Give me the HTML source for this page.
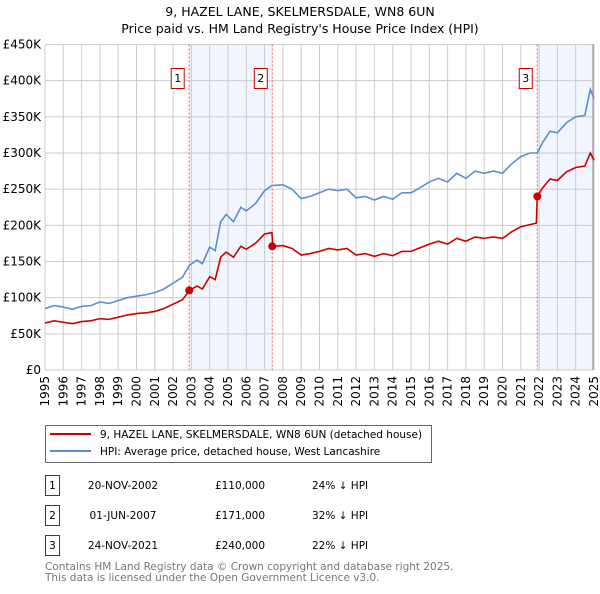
<!DOCTYPE html>
<html><head><meta charset="utf-8"><style>
body{margin:0;background:#fff;width:600px;height:590px;overflow:hidden;font-family:"DejaVu Sans","Liberation Sans",sans-serif;}
svg text{font-family:"DejaVu Sans","Liberation Sans",sans-serif;}
</style></head><body>
<svg id="chart" width="600" height="590" xmlns="http://www.w3.org/2000/svg">
<text x="300" y="16" text-anchor="middle" font-size="12.5">9, HAZEL LANE, SKELMERSDALE, WN8 6UN</text>
<text x="300" y="33" text-anchor="middle" font-size="12.5">Price paid vs. HM Land Registry's House Price Index (HPI)</text>
<g id="plot"></g>
<rect x="45.5" y="425.5" width="386" height="37" fill="#fff" stroke="#666"/>
<line x1="50" y1="434" x2="91" y2="434" stroke="#cc0000" stroke-width="2"/>
<text x="100" y="438" font-size="10.5">9, HAZEL LANE, SKELMERSDALE, WN8 6UN (detached house)</text>
<line x1="50" y1="451" x2="91" y2="451" stroke="#5b8fd0" stroke-width="2"/>
<text x="100" y="455" font-size="10.5">HPI: Average price, detached house, West Lancashire</text>
<g font-size="10.5">
<rect x="45.5" y="475.5" width="14" height="20" fill="#fff" stroke="#cc0000"/><text x="52.5" y="489" text-anchor="middle">1</text>
<text x="123" y="489" text-anchor="middle">20-NOV-2002</text><text x="240" y="489" text-anchor="middle">£110,000</text><text x="312" y="489">24% ↓ HPI</text>
<rect x="45.5" y="505.5" width="14" height="20" fill="#fff" stroke="#cc0000"/><text x="52.5" y="519" text-anchor="middle">2</text>
<text x="123" y="519" text-anchor="middle">01-JUN-2007</text><text x="240" y="519" text-anchor="middle">£171,000</text><text x="312" y="519">32% ↓ HPI</text>
<rect x="45.5" y="535.5" width="14" height="20" fill="#fff" stroke="#cc0000"/><text x="52.5" y="549" text-anchor="middle">3</text>
<text x="123" y="549" text-anchor="middle">24-NOV-2021</text><text x="240" y="549" text-anchor="middle">£240,000</text><text x="312" y="549">22% ↓ HPI</text>
</g>
<text x="45" y="570" font-size="10.5" fill="#777">Contains HM Land Registry data © Crown copyright and database right 2025.</text>
<text x="45" y="581" font-size="10.5" fill="#777">This data is licensed under the Open Government Licence v3.0.</text>
</svg>
<script>
const yTicks=[0,50,100,150,200,250,300,350,400,450];
const yearTicks=[1995,1996,1997,1998,1999,2000,2001,2002,2003,2004,2005,2006,2007,2008,2009,2010,2011,2012,2013,2014,2015,2016,2017,2018,2019,2020,2021,2022,2023,2024,2025];
const saleDates=[2002.88,2007.42,2021.9];
const salePrices=[110,171,240];
const saleLabels=["1","2","3"];
const hpiX=[1995,1995.5,1996,1996.5,1997,1997.5,1998,1998.5,1999,1999.5,2000,2000.5,2001,2001.5,2002,2002.5,2002.9,2003.3,2003.6,2004,2004.3,2004.6,2004.9,2005.3,2005.7,2006,2006.5,2007,2007.4,2008,2008.5,2009,2009.5,2010,2010.5,2011,2011.5,2012,2012.5,2013,2013.5,2014,2014.5,2015,2015.5,2016,2016.5,2017,2017.5,2018,2018.5,2019,2019.5,2020,2020.5,2021,2021.5,2021.9,2022.2,2022.6,2023,2023.5,2024,2024.5,2024.8,2025];
const hpiY=[85,89,87,84,88,89,94,92,96,100,102,104,107,112,120,128,145,152,147,170,165,205,215,205,225,220,230,248,255,256,250,237,240,245,250,248,250,238,240,235,240,236,245,245,252,260,265,260,272,265,275,272,275,272,285,295,300,300,315,330,328,342,350,352,388,375];
const ppX=[1995,1995.5,1996,1996.5,1997,1997.5,1998,1998.5,1999,1999.5,2000,2000.5,2001,2001.5,2002,2002.5,2002.9,2003.3,2003.6,2004,2004.3,2004.6,2004.9,2005.3,2005.7,2006,2006.5,2007,2007.4,2007.45,2008,2008.5,2009,2009.5,2010,2010.5,2011,2011.5,2012,2012.5,2013,2013.5,2014,2014.5,2015,2015.5,2016,2016.5,2017,2017.5,2018,2018.5,2019,2019.5,2020,2020.5,2021,2021.5,2021.85,2021.9,2022.2,2022.6,2023,2023.5,2024,2024.5,2024.8,2025];
const ppY=[65,68,66,64,67,68,71,70,73,76,78,79,81,85,91,97,110,116,112,129,125,156,163,156,171,167,175,188,190,171,172,168,159,161,164,168,166,168,159,161,157,161,158,164,164,169,174,178,174,182,178,184,182,184,182,191,198,201,203,240,252,264,262,274,280,282,300,290];
const L=45,R=594,T=44.5,B=370;
const xs=v=>L+(v-1995)/30*(R-L);
const ys=v=>B-v/450*(B-T);
const NS="http://www.w3.org/2000/svg";
const g=document.getElementById('plot');
function mk(t,a){const e=document.createElementNS(NS,t);for(const k in a)e.setAttribute(k,a[k]);g.appendChild(e);return e;}
let s1=mk('rect',{x:xs(saleDates[0]),y:T,width:xs(saleDates[1])-xs(saleDates[0]),height:B-T,fill:'#eef3fc',opacity:0.8});


let s2=mk('rect',{x:xs(saleDates[2]),y:T,width:R-xs(saleDates[2]),height:B-T,fill:'#eef3fc',opacity:0.8});


yTicks.forEach(v=>{
 let l=mk('line',{x1:L,x2:R,y1:ys(v),y2:ys(v),stroke:'#ccc','stroke-width':1});
 
 
 let t=mk('text',{x:L-4,y:ys(v)+4,'text-anchor':'end','font-size':12});
 
 
 t.textContent=v===0?'£0':'£'+v+'K';
});
yearTicks.forEach(v=>{
 let l=mk('line',{x1:xs(v),x2:xs(v),y1:T,y2:B,stroke:'#ccc','stroke-width':1});
 
 
 let t=mk('text',{x:0,y:0,'font-size':12,'text-anchor':'end',transform:`translate(${xs(v)+4},${B+6}) rotate(-90)`});
 
 
 t.textContent=v;
});
let ax=mk('line',{x1:R-1,x2:R-1,y1:T,y2:B,stroke:'#888','stroke-width':1});


saleDates.forEach((d,i)=>{
 let l=mk('line',{x1:xs(d),x2:xs(d),y1:T,y2:B,stroke:'#f06060','stroke-width':1,'stroke-dasharray':'2,2'});
 
 
 let r=mk('rect',{x:xs(d)-18,y:68.5,width:13,height:20,fill:'#fff',stroke:'#cc0000'});
 
 
 let t=mk('text',{x:xs(d)-11.5,y:82,'text-anchor':'middle','font-size':11});
 
 
 t.textContent=saleLabels[i];
});
let hp=mk('polyline',{points:hpiX.map((x,i)=>xs(x)+','+ys(hpiY[i])).join(' '),fill:'none',stroke:'#5b8fd0','stroke-width':1.6});


let pp=mk('polyline',{points:ppX.map((x,i)=>xs(x)+','+ys(ppY[i])).join(' '),fill:'none',stroke:'#cc0000','stroke-width':1.6});


saleDates.forEach((d,i)=>{
 let c=mk('circle',{cx:xs(d),cy:ys(salePrices[i]),r:4,fill:'#cc0000'});
 
 
});
</script>
</body></html>
